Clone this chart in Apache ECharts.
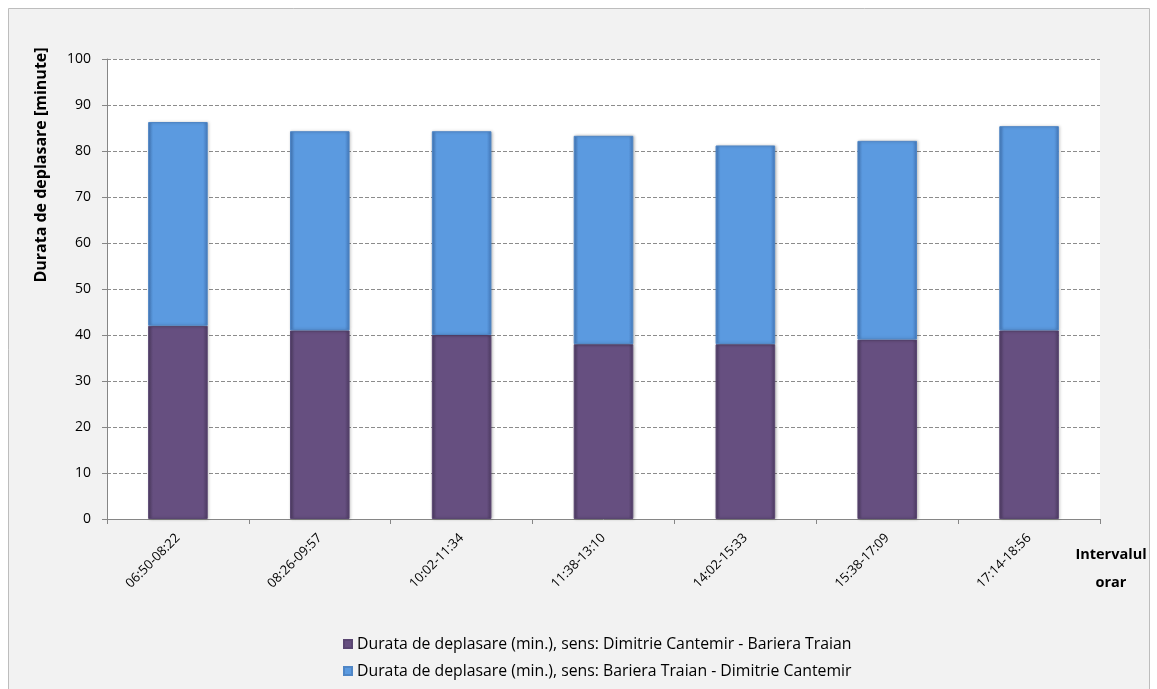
<!DOCTYPE html>
<html><head><meta charset="utf-8">
<script src="https://cdn.jsdelivr.net/npm/echarts@6/dist/echarts.min.js"></script>
<style>html,body{margin:0;padding:0;background:#fff}#c{width:1157px;height:689px}</style>
</head><body><div id="c"></div>
<script>
const categories = ['06:50-08:22','08:26-09:57','10:02-11:34','11:38-13:10','14:02-15:33','15:38-17:09','17:14-18:56'];
const dcBt = [42, 41, 40, 38, 38, 39, 41];
const btDc = [44.3, 43.3, 44.3, 45.3, 43.2, 43.2, 44.4];
const seriesNames = ['Durata de deplasare (min.), sens: Dimitrie Cantemir - Bariera Traian','Durata de deplasare (min.), sens: Bariera Traian - Dimitrie Cantemir'];
const yTicks = {min:0, max:100, interval:10};
const xAxisTitle = 'Intervalul\norar';
const yAxisTitle = 'Durata de deplasare [minute]';

const font = '"Open Sans", "Noto Sans", sans-serif';
function grad(c1, c2, c3){
  return new echarts.graphic.LinearGradient(0,0,1,0,[{offset:0,color:c1},{offset:0.08,color:c2},{offset:0.92,color:c2},{offset:1,color:c3}]);
}
const chart = echarts.init(document.getElementById('c'));
chart.setOption({
  animation:false,
  graphic:[
    {type:'rect', z:-10, shape:{x:8.5,y:8.5,width:1141,height:700}, style:{fill:'#f2f2f2', stroke:'#bdbdbd', lineWidth:1}},
    {type:'text', x:1111, y:569, style:{text:xAxisTitle, font:'bold 14.5px '+font, fill:'#000', align:'center', verticalAlign:'middle', lineHeight:28}},
    {type:'text', x:41, y:165, rotation:Math.PI/2, style:{text:yAxisTitle, font:'bold 16px '+font, fill:'#000', align:'center', verticalAlign:'middle'}}
  ],
  grid:{left:107, top:59, width:993, height:460, show:true, backgroundColor:'#ffffff', borderWidth:0},
  legend:{orient:'vertical', left:338, top:631, itemWidth:8, itemHeight:8, itemGap:11, icon:'rect',
    textStyle:{fontFamily:font, fontSize:15.8, color:'#000'},
    data:seriesNames},
  xAxis:{type:'category', data:categories, boundaryGap:true,
    axisLine:{lineStyle:{color:'#868686'}},
    axisTick:{show:true, alignWithLabel:false, length:5, lineStyle:{color:'#868686'}},
    axisLabel:{rotate:45, fontFamily:font, fontSize:13, color:'#000', margin:17}},
  yAxis:{type:'value', min:yTicks.min, max:yTicks.max, interval:yTicks.interval,
    axisLine:{show:true, lineStyle:{color:'#868686'}},
    axisTick:{show:true, length:5, lineStyle:{color:'#868686'}},
    splitLine:{lineStyle:{color:'#8c8c8c', type:[4,2], width:1}},
    axisLabel:{fontFamily:font, fontSize:14, color:'#000', margin:16}},
  series:[
    {name:seriesNames[0], type:'bar', stack:'t', data:dcBt, barWidth:'42%',
      itemStyle:{color:grad('#4e3c63','#664f80','#4e3c63'), borderColor:'#5a4672', borderWidth:1, shadowColor:'rgba(0,0,0,0.25)', shadowBlur:3, shadowOffsetX:1}},
    {name:seriesNames[1], type:'bar', stack:'t', data:btDc, barWidth:'42%',
      itemStyle:{color:grad('#4479bb','#5b9ae0','#4479bb'), borderColor:'#4f86c6', borderWidth:1, shadowColor:'rgba(0,0,0,0.25)', shadowBlur:3, shadowOffsetX:1}}
  ]
});
</script></body></html>
